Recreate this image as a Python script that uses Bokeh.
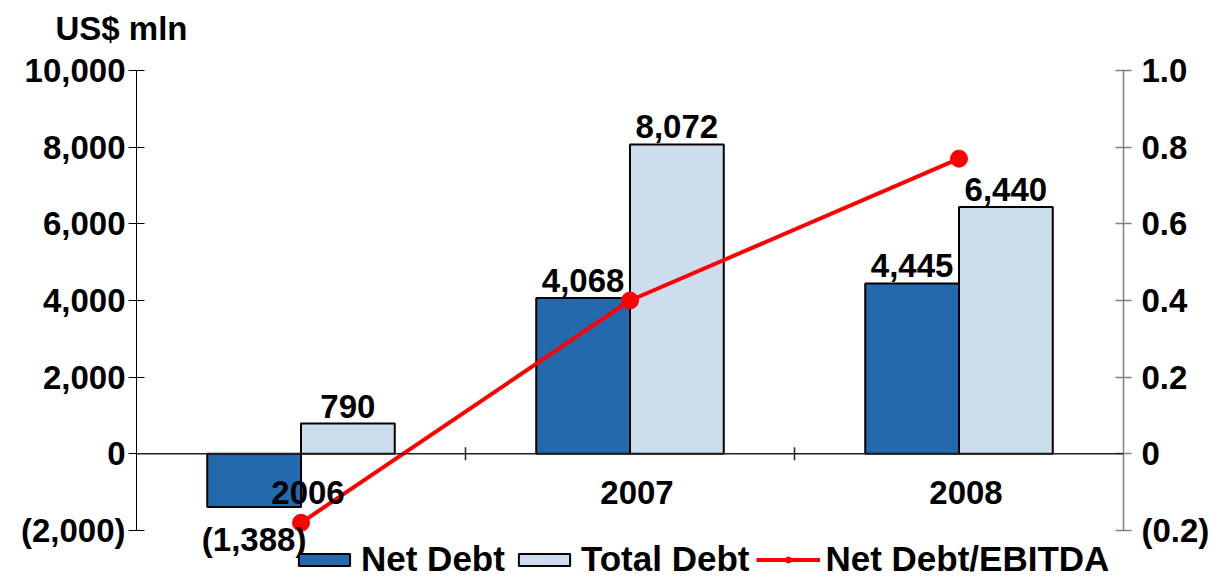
from bokeh.plotting import figure
from bokeh.models import (Range1d, LinearAxis, FixedTicker, Span, ColumnDataSource,
                          LabelSet, Title, Legend, LegendItem)
from bokeh.core.properties import value
from bokeh.embed import file_html
from bokeh.resources import INLINE

# ---- data ----
years = ["2006", "2007", "2008"]
net_debt = [-1388, 4068, 4445]
total_debt = [790, 8072, 6440]
nd_ebitda = [-0.18, 0.40, 0.77]
left_ticks = [-2000, 0, 2000, 4000, 6000, 8000, 10000]
left_tick_labels = ["(2,000)", "0", "2,000", "4,000", "6,000", "8,000", "10,000"]
right_ticks = [-0.2, 0, 0.2, 0.4, 0.6, 0.8, 1.0]
right_tick_labels = ["(0.2)", "0", "0.2", "0.4", "0.6", "0.8", "1.0"]
unit_label = "US$ mln"
series_names = ["Net Debt", "Total Debt", "Net Debt/EBITDA"]

# ---- style ----
FONT = "Liberation Sans"
FS = "33px"
NET_COLOR = "#2369AD"
TOT_COLOR = "#CCDDEE"
RED = "#FF0000"
BAR_W = 0.285
OFF = BAR_W / 2

W, H = 1212, 579
B_LEFT, B_TOP, B_RIGHT = 136, 70, 86
AXIS_PX = 460                      # pixels spanned by the axes' own ranges
FRAME_H = H - B_TOP                # frame reaches the bottom of the canvas
ext = FRAME_H / AXIS_PX            # frame extends below the axes


def fmt(v):
    return f"({abs(v):,})" if v < 0 else f"{v:,}"


idx = list(range(len(years)))

l_lo, l_hi = left_ticks[0], left_ticks[-1]
r_lo, r_hi = right_ticks[0], right_ticks[-1]

p = figure(width=W, height=H, output_backend="svg", toolbar_location=None,
           x_range=Range1d(-0.5, len(years) - 0.5),
           y_range=Range1d(l_hi - (l_hi - l_lo) * ext, l_hi),
           x_axis_location=None,
           min_border_left=B_LEFT, min_border_right=B_RIGHT, min_border_top=B_TOP,
           min_border_bottom=0)
p.outline_line_color = None
p.grid.visible = False
p.background_fill_color = "white"
p.border_fill_color = "white"

p.extra_y_ranges = {"ratio": Range1d(r_hi - (r_hi - r_lo) * ext, r_hi)}

# left axis
ya = p.yaxis[0]
ya.bounds = (l_lo, l_hi)
ya.ticker = FixedTicker(ticks=left_ticks)
ya.major_label_overrides = dict(zip(left_ticks, left_tick_labels))
ya.major_label_text_font = FONT
ya.major_label_text_font_size = FS
ya.major_label_text_font_style = "bold"
ya.major_label_text_color = "black"
ya.axis_line_color = "black"
ya.major_tick_line_color = "black"
ya.major_tick_in = 8
ya.major_tick_out = 8
ya.minor_tick_line_color = None
ya.major_label_standoff = 3

# right axis
ra = LinearAxis(y_range_name="ratio", ticker=FixedTicker(ticks=right_ticks), bounds=(r_lo, r_hi))
ra.major_label_overrides = dict(zip(right_ticks, right_tick_labels))
ra.major_label_text_font = FONT
ra.major_label_text_font_size = FS
ra.major_label_text_font_style = "bold"
ra.major_label_text_color = "black"
ra.axis_line_color = "#808080"
ra.axis_line_width = 1.5
ra.major_tick_line_color = "#808080"
ra.major_tick_line_width = 1.5
ra.major_tick_in = 8
ra.major_tick_out = 8
ra.minor_tick_line_color = None
ra.major_label_standoff = 10
p.add_layout(ra, "right")

# unit title (a thin spacer title sits between it and the frame)
p.add_layout(Title(text=" ", text_font_size="2px", standoff=18), "above")
p.add_layout(Title(text=unit_label, align="left", offset=-81, standoff=0,
                   vertical_align="top",
                   text_font=FONT, text_font_size=FS, text_font_style="bold",
                   text_color="black"), "above")

# zero line
p.add_layout(Span(location=0, dimension="width", line_color="#222222", line_width=1.5))

# bars
src = ColumnDataSource(dict(
    x_net=[i - OFF for i in idx], x_tot=[i + OFF for i in idx],
    net=net_debt, tot=total_debt))
r_net = p.vbar(x="x_net", top="net", bottom=0, width=BAR_W, source=src,
               fill_color=NET_COLOR, line_color="black", line_width=2)
r_tot = p.vbar(x="x_tot", top="tot", bottom=0, width=BAR_W, source=src,
               fill_color=TOT_COLOR, line_color="black", line_width=2)

# category boundary ticks on the zero line
bounds = [i + 0.5 for i in idx[:-1]]
p.scatter(x=bounds, y=[0] * len(bounds), marker="dash", angle=1.5708, size=13,
          line_color="#222222", line_width=1.5)

# line
r_line = p.line(x=idx, y=nd_ebitda, y_range_name="ratio", line_color=RED, line_width=4)
r_dot = p.scatter(x=idx, y=nd_ebitda, y_range_name="ratio", marker="circle", size=17,
                  fill_color=RED, line_color=RED)

# value labels
pos_x, pos_y, pos_t, neg_x, neg_y, neg_t = [], [], [], [], [], []
for i in idx:
    for xo, v in ((i - OFF, net_debt[i]), (i + OFF, total_debt[i])):
        if v >= 0:
            pos_x.append(xo); pos_y.append(v); pos_t.append(fmt(v))
        else:
            neg_x.append(xo); neg_y.append(v); neg_t.append(fmt(v))

txt = dict(text_font=value(FONT), text_font_size=value(FS), text_font_style="bold",
           text_color="black")
p.add_layout(LabelSet(x="x", y="y", text="t",
                      source=ColumnDataSource(dict(x=pos_x, y=pos_y, t=pos_t)),
                      text_align="center", text_baseline="alphabetic", y_offset=6, **txt))
p.add_layout(LabelSet(x="x", y="y", text="t",
                      source=ColumnDataSource(dict(x=neg_x, y=neg_y, t=neg_t)),
                      text_align="center", text_baseline="top", y_offset=-14, **txt))

# category labels
p.add_layout(LabelSet(x="x", y="y", text="t",
                      source=ColumnDataSource(dict(x=idx, y=[0] * len(idx), t=years)),
                      text_align="center", text_baseline="top", x_offset=7, y_offset=-27, **txt))

# legend
legend = Legend(items=[LegendItem(label=series_names[0], renderers=[r_net]),
                       LegendItem(label=series_names[1], renderers=[r_tot]),
                       LegendItem(label=series_names[2], renderers=[r_line, r_dot])],
                orientation="horizontal", location=(156, 0),
                label_text_font=FONT, label_text_font_size="35px", label_text_font_style="bold",
                label_text_color="black", glyph_width=64, glyph_height=15,
                label_standoff=5, spacing=7, padding=0, margin=0,
                border_line_color=None, background_fill_alpha=0)
p.add_layout(legend, "center")

open("out.html", "w").write(file_html(p, INLINE))
